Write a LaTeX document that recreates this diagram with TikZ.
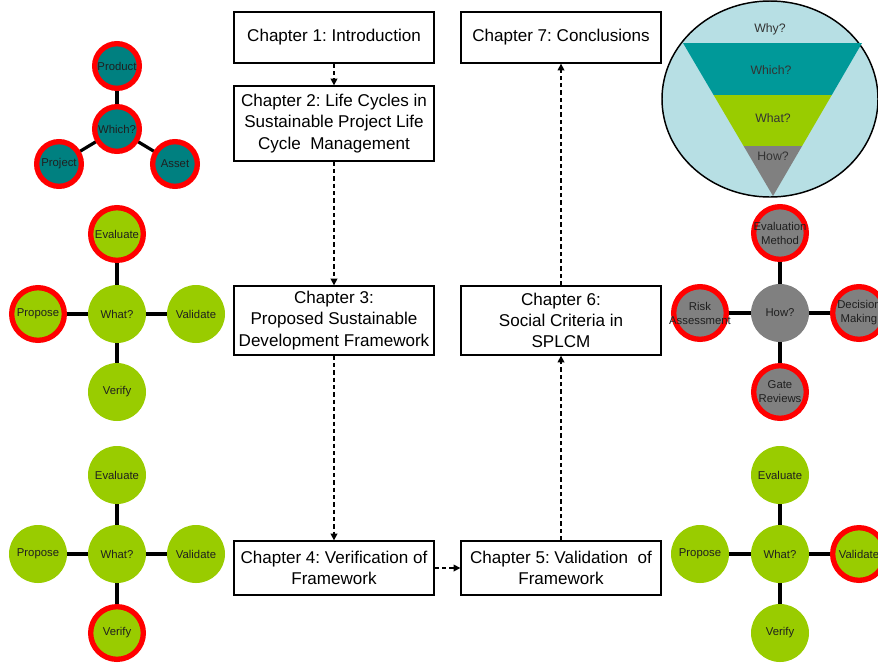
\documentclass[tikz,border=0pt]{standalone}
\usepackage{fontspec}
\setmainfont{Liberation Sans}
\usetikzlibrary{arrows.meta,backgrounds,shapes.geometric}
\definecolor{tealbub}{HTML}{008080}
\definecolor{tealband}{HTML}{009999}
\definecolor{limegreen}{HTML}{99CC00}
\definecolor{midgray}{HTML}{808080}
\definecolor{paleblue}{HTML}{B7DFE4}
\definecolor{ringred}{HTML}{FF0000}
\frenchspacing
\begin{document}
\begin{tikzpicture}[x=0.75pt,y=-0.75pt,
  chap/.style={draw=black, line width=1pt, fill=white, align=center,
    minimum width=150pt, inner sep=2pt, font=\fontsize{12.8}{16}\selectfont},
  flow/.style={line width=1.1pt, dash pattern=on 3.3pt off 2.2pt,
    -{Triangle[length=5pt,width=5pt]}},
  bub/.style={circle, inner sep=0pt, minimum size=43.5pt},
  ring/.style={bub, draw=ringred, line width=4pt, minimum size=39.5pt},
  sring/.style={circle, inner sep=0pt, draw=ringred, line width=4pt,
    minimum size=33.5pt, fill=tealbub},
  lbl/.style={font=\fontsize{8.5}{10.5}\selectfont, align=center, text=black!88},
  flbl/.style={font=\fontsize{9.2}{11}\selectfont, text=black!80},
  spoke/.style={line width=2.4pt, black}]
\useasboundingbox (0,0) rectangle (878,662);
\clip (0,0) rectangle (878,662);

% funnel of questions
\node[draw=black, line width=1.1pt, fill=paleblue, ellipse, minimum width=162pt,
  minimum height=147pt, inner sep=0pt] (funnel) at (770,99) {};
\fill[tealband] (683,43) -- (862,43) -- (831.8,95) -- (713.6,95) -- cycle;
\fill[limegreen] (713.6,95) -- (831.8,95) -- (802.1,146) -- (743.6,146) -- cycle;
\fill[midgray] (743.6,146) -- (802.1,146) -- (773,196) -- cycle;
\node[flbl] (qwhy) at (770,29) {Why?};
\node[flbl] (qwhich) at (771,70) {Which?};
\node[flbl] (qwhat) at (773,118) {What?};
\node[flbl] (qhow) at (773,156) {How?};

% chapters
\node[chap, minimum height=38.25pt] (c1) at (334,37.5) {Chapter 1: Introduction};
\node[chap, minimum height=56.25pt] (c2) at (334,123.5)
  {Chapter 2: Life Cycles in\\Sustainable Project Life\\Cycle\ \ Management};
\node[chap, minimum height=51.75pt] (c3) at (334,320.5)
  {Chapter 3:\\Proposed Sustainable\\Development Framework};
\node[chap, minimum height=40.5pt] (c4) at (334,568)
  {Chapter 4: Verification of\\Framework};
\node[chap, minimum height=40.5pt] (c5) at (561,568)
  {Chapter 5: Validation\ \ of\\Framework};
\node[chap, minimum height=51.75pt] (c6) at (561,320.5)
  {Chapter 6:\\Social Criteria in\\SPLCM};
\node[chap, minimum height=38.25pt] (c7) at (561,37.5) {Chapter 7: Conclusions};

\draw[flow] (c1) -- (c2);
\draw[flow] (c2) -- (c3);
\draw[flow] (c3) -- (c4);
\draw[flow] (c4) -- (c5);
\draw[flow] (c5) -- (c6);
\draw[flow] (c6) -- (c7);

% which? cluster
\node[sring, label={[lbl]center:Which?}] (wh) at (117,129) {};
\node[sring, label={[lbl]center:Product}] (whprod) at (117,66) {};
\node[sring, label={[lbl]center:Project}] (whproj) at (59,164) {};
\node[sring, label={[lbl]center:Asset}] (whasset) at (175,164) {};

% what? cluster (chapter 3)
\node[bub, fill=limegreen, label={[lbl]center:What?}] (a0) at (117,314) {};
\node[ring, fill=limegreen, label={[lbl]center:Evaluate}] (a1) at (117,234) {};
\node[ring, fill=limegreen, label={[lbl]center:Propose}] (a2) at (38,314) {};
\node[bub, fill=limegreen, label={[lbl]center:Validate}] (a3) at (196,314) {};
\node[bub, fill=limegreen, label={[lbl]center:Verify}] (a4) at (117,392) {};

% what? cluster (chapter 4)
\node[bub, fill=limegreen, label={[lbl]center:What?}] (b0) at (117,554) {};
\node[bub, fill=limegreen, label={[lbl]center:Evaluate}] (b1) at (117,475) {};
\node[bub, fill=limegreen, label={[lbl]center:Propose}] (b2) at (38,554) {};
\node[bub, fill=limegreen, label={[lbl]center:Validate}] (b3) at (196,554) {};
\node[ring, fill=limegreen, label={[lbl]center:Verify}] (b4) at (117,633) {};

% how? cluster (chapter 6)
\node[bub, fill=midgray, label={[lbl]center:How?}] (h0) at (780,313) {};
\node[ring, fill=midgray, label={[lbl]center:Evaluation\\Method}] (h1) at (780,233) {};
\node[ring, fill=midgray, label={[lbl]center:Risk\\Assessment}] (h2) at (700,313) {};
\node[ring, fill=midgray, label={[lbl]center:Decision\\Making}] (h3) at (859,313) {};
\node[ring, fill=midgray, label={[lbl]center:Gate\\Reviews}] (h4) at (780,392) {};

% what? cluster (chapter 5)
\node[bub, fill=limegreen, label={[lbl]center:What?}] (d0) at (780,554) {};
\node[bub, fill=limegreen, label={[lbl]center:Evaluate}] (d1) at (780,475) {};
\node[bub, fill=limegreen, label={[lbl]center:Propose}] (d2) at (700,554) {};
\node[ring, fill=limegreen, label={[lbl]center:Validate}] (d3) at (859,554) {};
\node[bub, fill=limegreen, label={[lbl]center:Verify}] (d4) at (780,633) {};

\begin{scope}[on background layer]
  \foreach \hub/\leaf in {wh/whprod, wh/whproj, wh/whasset,
      a0/a1, a0/a2, a0/a3, a0/a4, b0/b1, b0/b2, b0/b3, b0/b4,
      h0/h1, h0/h2, h0/h3, h0/h4, d0/d1, d0/d2, d0/d3, d0/d4}
    \draw[spoke] (\hub.center) -- (\leaf.center);
\end{scope}
\end{tikzpicture}
\end{document}
